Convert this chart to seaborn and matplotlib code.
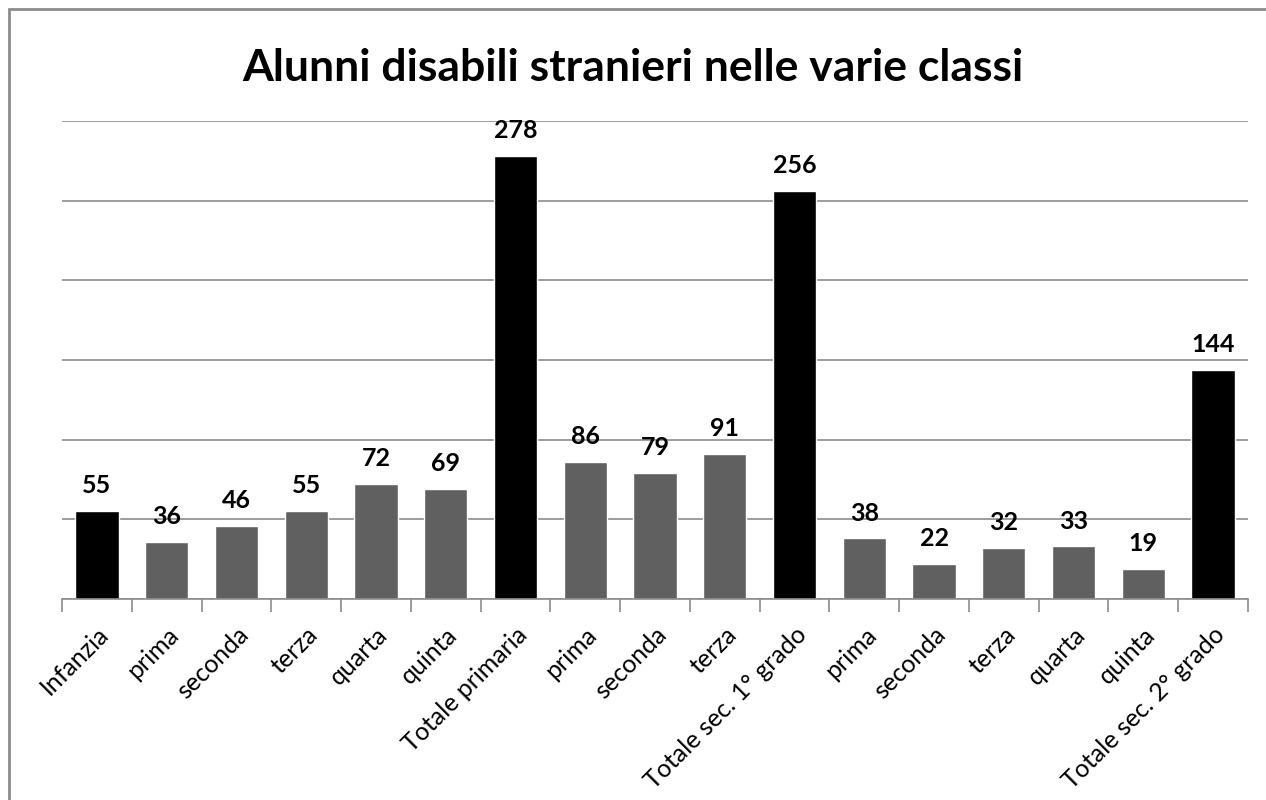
import matplotlib
matplotlib.use("Agg")
import matplotlib.pyplot as plt
import pandas as pd
import seaborn as sns
from matplotlib.patches import Rectangle

# data
labels = ["Infanzia", "prima", "seconda", "terza", "quarta", "quinta", "Totale primaria",
          "prima", "seconda", "terza", "Totale sec. 1° grado",
          "prima", "seconda", "terza", "quarta", "quinta", "Totale sec. 2° grado"]
values = [55, 36, 46, 55, 72, 69, 278, 86, 79, 91, 256, 38, 22, 32, 33, 19, 144]
kind = ["totale", "classe", "classe", "classe", "classe", "classe", "totale",
        "classe", "classe", "classe", "totale",
        "classe", "classe", "classe", "classe", "classe", "totale"]
title = "Alunni disabili stranieri nelle varie classi"

sns.set_theme(style="white")
plt.rcParams["font.family"] = ["Lato", "DejaVu Sans"]
plt.rcParams["text.color"] = "black"

df = pd.DataFrame({"key": [f"{i:02d}" for i in range(len(labels))],
                   "label": labels, "value": values, "kind": kind})

fig = plt.figure(figsize=(12.66, 8.0), dpi=100)
ax = fig.add_axes([62 / 1266, 1 - 599 / 800, (1248 - 62) / 1266, (599 - 121) / 800])

sns.barplot(data=df, x="key", y="value", hue="kind", order=df["key"],
            palette={"totale": "#000000", "classe": "#606060"},
            dodge=False, legend=False, width=0.62, saturation=1, ax=ax)

ax.set_ylim(0, 300)
ax.set_xlim(-0.5, len(labels) - 0.5)
ax.set_yticks(range(0, 301, 50))
ax.set_yticklabels([])
ax.yaxis.grid(True, color="#8c8c8c", linewidth=1.2)
ax.set_axisbelow(True)
ax.tick_params(axis="y", length=0)

# category separators as minor ticks, labels on major
ax.set_xticks(range(len(labels)))
ax.set_xticklabels(labels, rotation=45, ha="right", rotation_mode="anchor",
                   fontsize=18, color="black")
ax.set_xticks([i - 0.5 for i in range(len(labels) + 1)], minor=True)
ax.tick_params(axis="x", which="major", length=0, pad=17)
ax.tick_params(axis="x", which="minor", length=9, width=1.2, color="#8c8c8c", bottom=True)
ax.set_xlabel("")
ax.set_ylabel("")

for s in ["top", "right", "left"]:
    ax.spines[s].set_visible(False)
ax.spines["bottom"].set_color("#8c8c8c")
ax.spines["bottom"].set_linewidth(1.2)

for c in ax.containers:
    ax.bar_label(c, fmt="%d", padding=10, fontsize=18, fontweight="bold", color="black")

fig.text(633 / 1266, 1 - 68 / 800, title, ha="center", va="center",
         fontsize=32, fontweight="bold", color="black")

# outer chart frame
fig.patches.append(Rectangle((9 / 1266, -0.05), 1.1, 1 - 9 / 800 + 0.05,
                             transform=fig.transFigure, fill=False,
                             edgecolor="#8c8c8c", linewidth=2))

fig.savefig("out.png", dpi=100, facecolor="white")
